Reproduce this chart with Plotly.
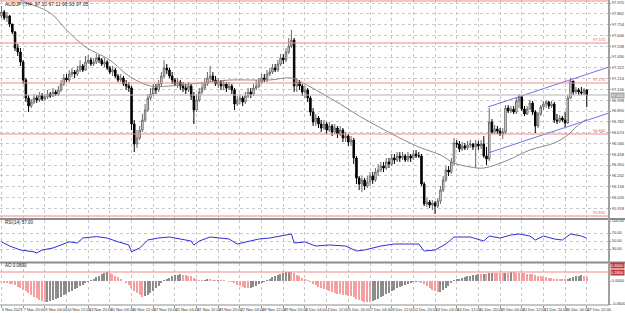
import numpy as np
import pandas as pd
import plotly.graph_objects as go

symbol_title = "AUDJPY,H4  97.10 97.11 96.93 97.05"

tick_bars = list(range(0, 217, 8))
tick_labels = ["6 Nov 2023", "7 Nov 20:00", "9 Nov 04:00", "10 Nov 12:00", "13 Nov 20:00",
               "15 Nov 04:00", "16 Nov 12:00", "17 Nov 20:00", "21 Nov 04:00", "22 Nov 12:00",
               "23 Nov 20:00", "27 Nov 04:00", "28 Nov 12:00", "29 Nov 20:00", "1 Dec 04:00",
               "4 Dec 12:00", "5 Dec 20:00", "7 Dec 04:00", "8 Dec 12:00", "11 Dec 20:00",
               "13 Dec 04:00", "14 Dec 12:00", "15 Dec 20:00", "19 Dec 04:00", "20 Dec 12:00",
               "21 Dec 20:00", "26 Dec 04:00", "27 Dec 12:00"]

first_open = 97.84
close = [97.88, 97.82, 97.84, 97.76, 97.68, 97.52, 97.48, 97.38, 97.20, 97.02,
         96.94, 96.98, 97.02, 97.00, 97.05, 97.01, 97.03, 97.06, 97.04, 97.08,
         97.06, 97.10, 97.16, 97.22, 97.20, 97.26, 97.28, 97.26, 97.30, 97.34,
         97.30, 97.38, 97.40, 97.36, 97.38, 97.42, 97.40, 97.36, 97.38, 97.32,
         97.28, 97.30, 97.24, 97.20, 97.22, 97.16, 97.14, 97.12, 96.76, 96.56,
         96.62, 96.70, 96.80, 96.90, 97.02, 97.06, 97.12, 97.10, 97.16, 97.24,
         97.32, 97.30, 97.24, 97.20, 97.16, 97.18, 97.14, 97.12, 97.10, 97.14,
         97.04, 96.90, 97.00, 97.08, 97.12, 97.16, 97.22, 97.24, 97.20, 97.16,
         97.18, 97.14, 97.16, 97.12, 97.14, 97.10, 96.96, 97.00, 97.02, 96.98,
         97.04, 97.08, 97.06, 97.12, 97.14, 97.18, 97.22, 97.20, 97.26, 97.28,
         97.32, 97.30, 97.36, 97.42, 97.40, 97.48, 97.54, 97.60, 97.14, 97.18,
         97.14, 97.08, 97.10, 97.02, 96.88, 96.78, 96.82, 96.76, 96.72, 96.76,
         96.70, 96.74, 96.68, 96.72, 96.66, 96.70, 96.62, 96.64, 96.58, 96.60,
         96.42, 96.22, 96.16, 96.20, 96.14, 96.18, 96.24, 96.20, 96.28, 96.30,
         96.34, 96.32, 96.38, 96.36, 96.42, 96.40, 96.44, 96.42, 96.44, 96.40,
         96.44, 96.42, 96.46, 96.44, 96.44, 96.16, 95.96, 95.98, 95.95, 95.97,
         95.94, 95.99, 96.10, 96.20, 96.30, 96.28, 96.38, 96.57, 96.56, 96.51,
         96.54, 96.52, 96.55, 96.56, 96.53, 96.56, 96.54, 96.56, 96.44, 96.41,
         96.78, 96.68, 96.71, 96.69, 96.66, 96.68, 96.92, 96.89, 96.91, 96.88,
         96.99, 97.03, 96.91, 96.86, 96.91, 96.97, 96.88, 96.74, 96.86, 96.93,
         96.96, 96.98, 96.94, 96.96, 96.80, 96.79, 96.82, 96.80, 96.77, 97.02,
         97.19, 97.08, 97.10, 97.08, 97.07, 97.10, 97.05]
high = [97.94, 97.90, 97.88, 97.85, 97.76, 97.69, 97.56, 97.52, 97.40, 97.22,
        97.05, 97.01, 97.06, 97.05, 97.08, 97.07, 97.06, 97.10, 97.08, 97.12,
        97.10, 97.14, 97.20, 97.26, 97.26, 97.30, 97.32, 97.30, 97.34, 97.40,
        97.36, 97.44, 97.45, 97.42, 97.42, 97.46, 97.45, 97.42, 97.42, 97.40,
        97.34, 97.34, 97.32, 97.26, 97.26, 97.24, 97.20, 97.18, 97.14, 96.80,
        96.70, 96.74, 96.86, 96.96, 97.06, 97.12, 97.16, 97.16, 97.20, 97.28,
        97.40, 97.36, 97.32, 97.28, 97.22, 97.22, 97.20, 97.18, 97.16, 97.18,
        97.16, 97.08, 97.06, 97.12, 97.18, 97.22, 97.28, 97.34, 97.28, 97.24,
        97.22, 97.20, 97.20, 97.18, 97.18, 97.16, 97.12, 97.04, 97.06, 97.04,
        97.08, 97.12, 97.12, 97.16, 97.20, 97.22, 97.26, 97.26, 97.30, 97.32,
        97.36, 97.36, 97.40, 97.46, 97.46, 97.52, 97.62, 97.70, 97.62, 97.22,
        97.20, 97.16, 97.14, 97.12, 97.04, 96.92, 96.86, 96.84, 96.80, 96.80,
        96.78, 96.78, 96.76, 96.76, 96.74, 96.74, 96.72, 96.68, 96.66, 96.64,
        96.62, 96.44, 96.24, 96.24, 96.22, 96.24, 96.28, 96.28, 96.32, 96.36,
        96.38, 96.38, 96.42, 96.42, 96.46, 96.46, 96.48, 96.48, 96.48, 96.46,
        96.48, 96.46, 96.50, 96.50, 96.48, 96.46, 96.18, 96.02, 96.00, 96.00,
        95.99, 96.02, 96.14, 96.24, 96.34, 96.34, 96.42, 96.62, 96.60, 96.59,
        96.58, 96.57, 96.59, 96.60, 96.57, 96.60, 96.59, 96.60, 96.64, 96.53,
        96.92, 96.81, 96.75, 96.74, 96.72, 96.72, 96.95, 96.95, 96.94, 96.94,
        97.02, 97.06, 97.04, 96.94, 96.94, 97.00, 96.99, 96.90, 96.88, 96.95,
        96.99, 97.00, 96.99, 96.99, 96.98, 96.86, 96.85, 96.84, 96.88, 97.05,
        97.22, 97.19, 97.13, 97.12, 97.13, 97.12, 97.11]
low = [97.82, 97.80, 97.78, 97.73, 97.66, 97.49, 97.44, 97.34, 97.16, 96.98,
       96.88, 96.92, 96.96, 96.97, 96.98, 96.99, 96.99, 97.01, 97.02, 97.03,
       97.04, 97.04, 97.08, 97.14, 97.18, 97.18, 97.23, 97.22, 97.24, 97.28,
       97.28, 97.29, 97.36, 97.34, 97.34, 97.36, 97.37, 97.34, 97.33, 97.30,
       97.26, 97.24, 97.22, 97.18, 97.18, 97.14, 97.10, 97.08, 96.70, 96.48,
       96.52, 96.60, 96.68, 96.78, 96.88, 97.00, 97.04, 97.06, 97.08, 97.14,
       97.22, 97.26, 97.22, 97.16, 97.14, 97.12, 97.10, 97.08, 97.06, 97.08,
       97.00, 96.76, 96.88, 96.98, 97.06, 97.10, 97.14, 97.18, 97.18, 97.14,
       97.12, 97.10, 97.10, 97.08, 97.10, 97.06, 96.90, 96.94, 96.96, 96.94,
       96.96, 97.02, 97.02, 97.04, 97.10, 97.12, 97.16, 97.18, 97.18, 97.24,
       97.26, 97.28, 97.28, 97.34, 97.36, 97.38, 97.46, 97.52, 97.08, 97.08,
       97.10, 97.04, 97.02, 96.98, 96.84, 96.74, 96.74, 96.72, 96.68, 96.70,
       96.66, 96.68, 96.64, 96.66, 96.62, 96.64, 96.58, 96.58, 96.54, 96.54,
       96.36, 96.16, 96.10, 96.08, 96.10, 96.12, 96.14, 96.16, 96.18, 96.24,
       96.28, 96.28, 96.30, 96.32, 96.34, 96.36, 96.38, 96.38, 96.40, 96.38,
       96.38, 96.38, 96.40, 96.42, 96.42, 96.14, 95.94, 95.93, 95.92, 95.90,
       95.86, 95.92, 95.96, 96.08, 96.18, 96.24, 96.26, 96.34, 96.52, 96.48,
       96.49, 96.50, 96.50, 96.52, 96.50, 96.32, 96.50, 96.51, 96.42, 96.35,
       96.39, 96.66, 96.66, 96.66, 96.64, 96.61, 96.66, 96.87, 96.87, 96.86,
       96.86, 96.92, 96.89, 96.84, 96.85, 96.90, 96.85, 96.67, 96.72, 96.84,
       96.90, 96.92, 96.91, 96.92, 96.77, 96.76, 96.77, 96.78, 96.73, 96.76,
       97.01, 97.05, 97.06, 97.05, 97.05, 97.05, 96.93]

ma_bars = [3, 7, 18, 24, 31, 40, 47, 55, 62, 70, 77, 84, 92, 99, 107, 112, 118, 125,
           132, 140, 147, 154, 162, 167, 173, 178, 187, 195, 204, 209, 212, 216]
ma_vals = [98.06, 98.00, 97.87, 97.70, 97.53, 97.40, 97.24, 97.14, 97.14, 97.16, 97.18,
           97.20, 97.20, 97.20, 97.22, 97.16, 97.07, 96.96, 96.84, 96.72, 96.62, 96.53,
           96.45, 96.37, 96.33, 96.32, 96.40, 96.50, 96.57, 96.65, 96.73, 96.81]

rsi_bars = [0, 1, 3, 7, 12, 13, 15, 19, 24, 25, 28, 30, 35, 39, 43, 47, 48, 51, 54, 58,
            62, 66, 70, 71, 73, 77, 81, 84, 87, 92, 95, 99, 103, 107, 108, 112, 116, 121,
            127, 131, 134, 140, 145, 151, 154, 156, 160, 164, 167, 173, 178, 180, 184, 188,
            191, 195, 197, 200, 204, 207, 210, 214, 216]
rsi_vals = [48, 44, 37.5, 27.5, 23, 20, 27.5, 32.5, 45, 48, 45, 57.5, 61, 57.5, 48, 40, 23,
            32.5, 52.5, 57.5, 60, 55, 50, 40, 50, 60, 57.5, 55, 42.5, 50, 55, 57.5, 62.5,
            67.5, 45, 47.5, 37.5, 40, 37.5, 25, 27.5, 37.5, 42.5, 42.5, 42.5, 25, 27.5, 42.5,
            60, 60, 50, 62.5, 57.5, 65, 67.5, 62.5, 52.5, 62.5, 55, 52.5, 67.5, 62.5, 57]

ao_vals = [-0.02, -0.03, -0.04, -0.05,
           -0.06, -0.08, -0.11, -0.14, -0.17, -0.20, -0.24, -0.28, -0.31, -0.34, -0.37, -0.40, -0.42,
           -0.41, -0.40, -0.38, -0.36, -0.34, -0.31, -0.28, -0.25, -0.22, -0.19, -0.16, -0.13, -0.10,
           -0.07, -0.04, -0.01,
           0.02, 0.05, 0.08, 0.11, 0.14, 0.16, 0.18, 0.17, 0.14, 0.11, 0.08, 0.04,
           0.00, -0.04, -0.08, -0.14, -0.20, -0.24, -0.28, -0.32, -0.30, -0.27, -0.23, -0.19, -0.14,
           -0.09, -0.04,
           0.01, 0.04, 0.07, 0.10, 0.12, 0.13, 0.14, 0.13, 0.12, 0.11, 0.10, 0.07, 0.04, 0.02,
           0.01, 0.02, 0.03, 0.03, 0.02, 0.01, 0.02, 0.02, 0.01, 0.00, -0.01, -0.02,
           -0.04, -0.07, -0.10, -0.12, -0.14, -0.14, -0.13, -0.11, -0.09, -0.06, -0.04, -0.01,
           0.02, 0.05, 0.08, 0.11, 0.13, 0.15, 0.17, 0.18, 0.19,
           0.18, 0.16, 0.13, 0.10, 0.07, 0.04, 0.01,
           -0.02, -0.05, -0.08, -0.11, -0.14, -0.16, -0.18, -0.20, -0.22, -0.24, -0.25, -0.26,
           -0.27, -0.28, -0.29, -0.30, -0.32, -0.35, -0.38, -0.40, -0.41, -0.42, -0.42,
           -0.40, -0.38, -0.35, -0.32, -0.29, -0.26, -0.23, -0.20, -0.17, -0.14, -0.11, -0.09,
           -0.07, -0.05, -0.03, -0.02, -0.01, -0.01,
           -0.03, -0.06, -0.10, -0.14, -0.17, -0.20, -0.22, -0.21, -0.18, -0.14, -0.09, -0.04,
           0.01, 0.03, 0.05, 0.07, 0.09, 0.10, 0.11, 0.12, 0.13, 0.14, 0.14, 0.15, 0.15, 0.16,
           0.17, 0.17,
           0.17, 0.17, 0.16, 0.17, 0.17, 0.18, 0.18, 0.17, 0.17, 0.16, 0.16, 0.15, 0.15, 0.14, 0.12,
           0.11, 0.10, 0.09, 0.08, 0.07, 0.06, 0.05, 0.04, 0.04, 0.03,
           0.03, 0.04, 0.06, 0.08, 0.10, 0.11, 0.12, 0.10, 0.08]
ao_level = 0.18
ao_range = [-0.48, 0.36]

levels = [97.99, 97.57, 97.17, 96.66, 95.84]
chan_bars = [179.5, 224.2]
chan_upper = [96.93, 97.33]
chan_lower = [96.47, 96.87]

price_ticks = [round(97.970 - 0.108 * k, 3) for k in range(20)]
rsi_ticks = [100, 70, 50, 30]

# ---- derived ----
n = len(close)
x = list(range(n))
opens = [first_open] + close[:-1]
ao_col = ['#8c8c8c' if (i > 0 and ao_vals[i] > ao_vals[i - 1]) else '#f4a0a0' for i in range(n)]

W, H = 625, 313
def py(p):
    return 1 - p / H
xr = 609 / W
XR = [-0.55, 224.2]
FONT = "Liberation Sans"
grid = dict(showgrid=True, gridcolor='#c8c8c8', griddash='dot', gridwidth=1)

fig = go.Figure()
fig.add_trace(go.Candlestick(x=x, open=opens, high=high, low=low, close=close,
                             increasing=dict(line=dict(color='#6a6a6a', width=1), fillcolor='#ffffff'),
                             decreasing=dict(line=dict(color='#000000', width=1), fillcolor='#000000'),
                             whiskerwidth=0, hoverinfo='skip', xaxis='x', yaxis='y', showlegend=False))
fig.add_trace(go.Scatter(x=ma_bars, y=ma_vals, mode='lines', line=dict(color='#8a8a8a', width=1, shape='spline'),
                         xaxis='x', yaxis='y', showlegend=False, hoverinfo='skip'))
for ch in (chan_upper, chan_lower):
    fig.add_trace(go.Scatter(x=chan_bars, y=ch, mode='lines', line=dict(color='#7272e6', width=1),
                             xaxis='x', yaxis='y', showlegend=False, hoverinfo='skip'))
fig.add_trace(go.Scatter(x=rsi_bars, y=rsi_vals, mode='lines', line=dict(color='#2f2fd6', width=1),
                         xaxis='x2', yaxis='y2', showlegend=False, hoverinfo='skip'))
fig.add_trace(go.Bar(x=x, y=ao_vals, marker=dict(color=ao_col, line=dict(width=0)), width=0.45,
                     xaxis='x3', yaxis='y3', showlegend=False, hoverinfo='skip'))

shapes = []
for v in levels:
    shapes.append(dict(type='line', xref='x domain', x0=0, x1=1, yref='y', y0=v, y1=v,
                       line=dict(color='#f08888', width=1)))
shapes.append(dict(type='line', xref='x domain', x0=0, x1=1, yref='y', y0=close[-1], y1=close[-1],
                   line=dict(color='#b4b4b4', width=1)))
shapes.append(dict(type='line', xref='x3 domain', x0=0, x1=1, yref='y3', y0=ao_level, y1=ao_level,
                   line=dict(color='#f08888', width=1)))
for p in (219, 262.5):
    shapes.append(dict(type='line', xref='paper', x0=0, x1=1, yref='paper', y0=py(p), y1=py(p),
                       line=dict(color='#8c8c8c', width=2)))
shapes.append(dict(type='line', xref='paper', x0=0, x1=xr, yref='paper', y0=py(305), y1=py(305),
                   line=dict(color='#8c8c8c', width=1)))
shapes.append(dict(type='line', xref='paper', x0=xr, x1=xr, yref='paper', y0=py(305), y1=1,
                   line=dict(color='#a0a0a0', width=2)))

ann = [dict(xref='paper', yref='paper', x=0.004, y=py(4), text=symbol_title, showarrow=False,
            xanchor='left', yanchor='middle', font=dict(size=5, color='#222', family=FONT)),
       dict(xref='paper', yref='paper', x=0.004, y=py(222.5), text=f"RSI(14) {rsi_vals[-1]:.2f}",
            showarrow=False, xanchor='left', yanchor='middle', font=dict(size=4.5, color='#222', family=FONT)),
       dict(xref='paper', yref='paper', x=0.004, y=py(265.5), text=f"AO {ao_vals[-1]:.4f}",
            showarrow=False, xanchor='left', yanchor='middle', font=dict(size=4.5, color='#222', family=FONT))]
for v in levels[1:]:
    ann.append(dict(xref='paper', yref='y', x=xr - 0.002, y=v, text=f"{v:.3f}", showarrow=False,
                    xanchor='right', yanchor='bottom', yshift=-1, font=dict(size=4, color='#e06060', family=FONT)))
ann.append(dict(xref='paper', yref='y', x=xr + 0.002, y=close[-1], text=f"{close[-1]:.3f}", showarrow=False,
                xanchor='left', yanchor='middle', bgcolor='#a8a8a8', borderpad=0,
                font=dict(size=4, color='#ffffff', family=FONT)))
ann.append(dict(xref='paper', yref='y3', x=xr + 0.002, y=ao_level, text=f"{ao_level:.4f}", showarrow=False,
                xanchor='left', yanchor='middle', bgcolor='#c03a3a', borderpad=0,
                font=dict(size=4, color='#ffffff', family=FONT)))
ann.append(dict(xref='paper', yref='paper', x=xr + 0.002, y=py(265.5), text=f"{ao_range[1]:.4f}", showarrow=False,
                xanchor='left', yanchor='middle', bgcolor='#c03a3a', borderpad=0,
                font=dict(size=4, color='#ffffff', family=FONT)))

tf = dict(size=4, color='#333', family=FONT)
xcommon = dict(domain=[0, xr], range=XR, tickvals=tick_bars, zeroline=False, showline=False,
               automargin=False, fixedrange=True, **grid)
ao_bot_tick = ao_range[0] + 0.02
fig.update_layout(
    width=W, height=H, margin=dict(l=0, r=0, t=0, b=0), template='none',
    paper_bgcolor='white', plot_bgcolor='white', showlegend=False, bargap=0, boxgap=0.2,
    xaxis=dict(anchor='y', showticklabels=False, rangeslider=dict(visible=False), **xcommon),
    xaxis2=dict(anchor='y2', matches='x', showticklabels=False, **xcommon),
    xaxis3=dict(anchor='y3', matches='x', showticklabels=True, ticktext=tick_labels, tickangle=0,
                ticklabelposition='outside right', tickfont=tf, ticks='outside', ticklen=2,
                tickcolor='#8c8c8c', **xcommon),
    yaxis=dict(domain=[py(218), 1], range=[95.82, 98.00], side='right', anchor='x',
               tickvals=price_ticks, ticktext=[f"{v:.3f}" for v in price_ticks], tickfont=tf,
               ticks='outside', ticklen=1, tickcolor='#8c8c8c', zeroline=False, automargin=False, **grid),
    yaxis2=dict(domain=[py(262), py(220)], range=[-2.5, 102.5], side='right', anchor='x2',
                tickvals=rsi_ticks, ticktext=[f"{v:.2f}" for v in rsi_ticks], tickfont=tf,
                ticks='outside', ticklen=1, tickcolor='#8c8c8c', zeroline=False, automargin=False, **grid),
    yaxis3=dict(domain=[py(305), py(263)], range=ao_range, side='right', anchor='x3',
                tickvals=[0, ao_bot_tick], ticktext=["0.0000", f"{ao_bot_tick:.4f}"], tickfont=tf,
                ticks='outside', ticklen=1, tickcolor='#8c8c8c', zeroline=False, showgrid=False,
                automargin=False),
    shapes=shapes, annotations=ann,
)
fig.write_html("out.html")
